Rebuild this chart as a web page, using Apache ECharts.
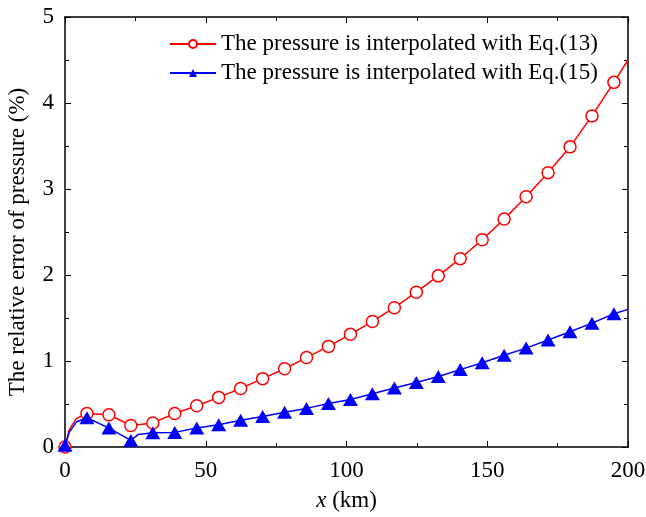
<!DOCTYPE html>
<html>
<head>
<meta charset="utf-8">
<script src="https://cdn.jsdelivr.net/npm/echarts@6/dist/echarts.min.js"></script>
<style>
  html, body { margin: 0; padding: 0; background: #fff; }
  #chart { width: 646px; height: 517px; }
</style>
</head>
<body>
<div id="chart"></div>
<script>
// Data (x in km, relative error in %)
const xEq13 = [0, 1.5, 4, 7.8, 15.6, 23.4, 31.2, 39, 46.8, 54.6, 62.4, 70.2, 78, 85.8, 93.6, 101.4, 109.2, 117, 124.8, 132.6, 140.4, 148.2, 156, 163.8, 171.6, 179.4, 187.2, 195, 200];
const yEq13 = [0, 0.2, 0.33, 0.39, 0.375, 0.25, 0.28, 0.39, 0.48, 0.577, 0.68, 0.795, 0.91, 1.04, 1.17, 1.31, 1.46, 1.62, 1.80, 1.99, 2.19, 2.41, 2.65, 2.91, 3.19, 3.49, 3.85, 4.24, 4.5];

const xEq15 = [0, 1.5, 4, 7.8, 15.6, 23.4, 26, 31.2, 39, 46.8, 54.6, 62.4, 70.2, 78, 85.8, 93.6, 101.4, 109.2, 117, 124.8, 132.6, 140.4, 148.2, 156, 163.8, 171.6, 179.4, 187.2, 195, 200];
const yEq15 = [0.02, 0.17, 0.29, 0.34, 0.22, 0.076, 0.146, 0.165, 0.17, 0.22, 0.26, 0.31, 0.355, 0.405, 0.449, 0.507, 0.553, 0.62, 0.685, 0.75, 0.82, 0.90, 0.98, 1.066, 1.15, 1.245, 1.34, 1.44, 1.55, 1.6];

// points on the curve that carry no marker
const plainEq13 = [1.5, 4, 200];
const plainEq15 = [1.5, 4, 26, 200];

const names = ['The pressure is interpolated with Eq.(13)', 'The pressure is interpolated with Eq.(15)'];

const FONT = '"Liberation Serif", "DejaVu Serif", serif';

function toData(xs, ys, plain) {
    return xs.map((x, i) => {
        const item = { value: [x, ys[i]] };
        if (plain.includes(x)) item.symbol = 'none';
        return item;
    });
}

const chart = echarts.init(document.getElementById('chart'));

function frameAxis(extra) {
    return Object.assign({
        axisLine: { show: true, onZero: false, lineStyle: { color: '#000', width: 1.5 } },
        axisTick: { show: true, inside: true, length: 6, lineStyle: { color: '#000', width: 1 } },
        minorTick: { show: true, splitNumber: 2, length: 4, lineStyle: { color: '#000', width: 1 } },
        splitLine: { show: false }
    }, extra);
}

const option = {
    animation: false,
    backgroundColor: '#fff',
    grid: { left: 65, right: 18, top: 17, bottom: 70, outerBoundsMode: 'none' },
    legend: {
        data: names,
        left: 164,
        top: 27,
        orient: 'vertical',
        itemGap: 5,
        itemWidth: 46,
        itemHeight: 10,
        textStyle: { fontFamily: FONT, fontSize: 23, lineHeight: 24, color: '#000' }
    },
    xAxis: [
        frameAxis({
            type: 'value', min: 0, max: 200, interval: 50,
            name: '{i|x} (km)',
            nameLocation: 'middle', nameGap: 42,
            nameTextStyle: {
                fontFamily: FONT, fontSize: 23, color: '#000',
                rich: { i: { fontFamily: FONT, fontSize: 23, fontStyle: 'italic', color: '#000' } }
            },
            axisLabel: { fontFamily: FONT, fontSize: 23, color: '#000', margin: 12 }
        }),
        frameAxis({
            type: 'value', min: 0, max: 200, interval: 50, position: 'top',
            axisLabel: { show: false }
        })
    ],
    yAxis: [
        frameAxis({
            type: 'value', min: 0, max: 5, interval: 1,
            name: 'The relative error of pressure (%)',
            nameLocation: 'middle', nameGap: 36,
            nameTextStyle: { fontFamily: FONT, fontSize: 23, color: '#000', padding: [0, 20, 0, 0] },
            axisLabel: { fontFamily: FONT, fontSize: 23, color: '#000', margin: 11 }
        }),
        frameAxis({
            type: 'value', min: 0, max: 5, interval: 1, position: 'right',
            axisLabel: { show: false }
        })
    ],
    series: [
        {
            name: names[0],
            type: 'line',
            data: toData(xEq13, yEq13, plainEq13),
            symbol: 'circle',
            symbolSize: 12,
            itemStyle: { color: '#fff', borderColor: '#ff0000', borderWidth: 1.5 },
            lineStyle: { color: '#ff0000', width: 1.5 },
            z: 2
        },
        {
            name: names[1],
            type: 'line',
            data: toData(xEq15, yEq15, plainEq15),
            symbol: 'triangle',
            symbolSize: [15, 13],
            itemStyle: { color: '#0000ff' },
            lineStyle: { color: '#0000ff', width: 1.5 },
            z: 3
        }
    ]
};

chart.setOption(option);
</script>
</body>
</html>
